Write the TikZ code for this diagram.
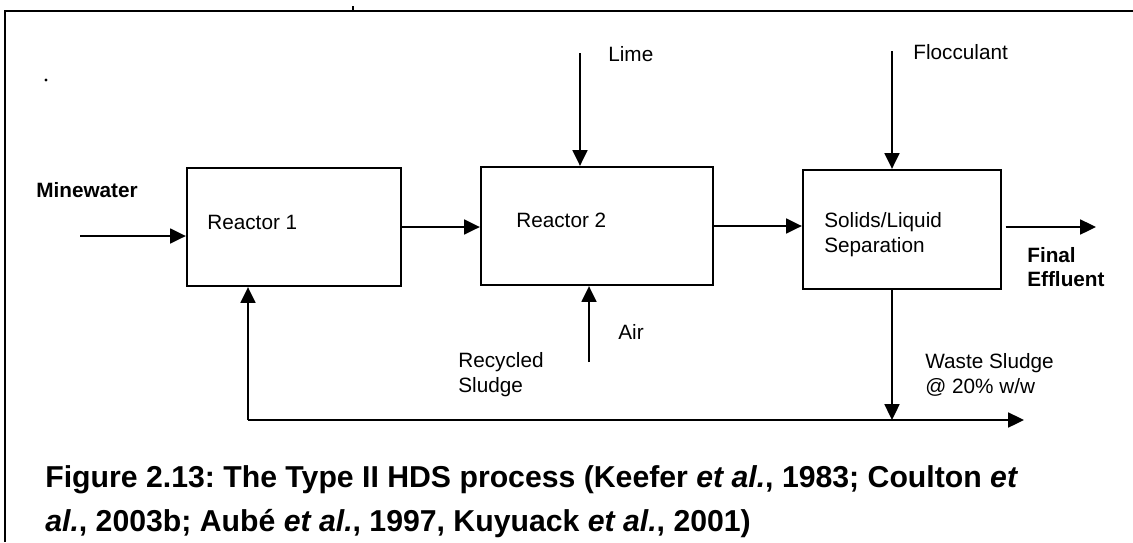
\documentclass[tikz,border=0pt]{standalone}
\usepackage{fontspec}
\setmainfont{Liberation Sans}
\usetikzlibrary{arrows.meta,positioning}
\frenchspacing

\begin{document}
\begin{tikzpicture}[x=0.02cm,y=-0.02cm,
  box/.style={draw,line width=1.3pt,inner sep=0pt},
  arr/.style={line width=1.1pt,-{Triangle[length=9pt,width=8.5pt]}},
  lbl/.style={anchor=north west,inner sep=0pt,align=left,font=\fontsize{11.8}{14}\selectfont},
  blbl/.style={lbl,font=\fontsize{11.8}{13.2}\selectfont\bfseries}]
\def\pxu{0.02cm}
\useasboundingbox (0,0) rectangle (1133,542);
\draw[line width=1.4pt] (5,542) -- (5,11) -- (1133,11);
\draw[line width=1pt] (353,11) -- (353,6);
\fill (46,80) circle (1.6);
% process boxes
\node[box,minimum width=214*\pxu,minimum height=118*\pxu] (r1) at (294,227) {};
\node[box,minimum width=232*\pxu,minimum height=118*\pxu] (r2) at (597,226) {};
\node[box,minimum width=198*\pxu,minimum height=119*\pxu] (sep) at (902,229.5) {};
\node[lbl] (r1txt) at (207,214.5) {Reactor 1};
\node[lbl] (r2txt) at (516,212.5) {Reactor 2};
\node[lbl] (septxt) at (824,212.5) {Solids/Liquid\\Separation};
% streams
\coordinate (mw) at (80,236);
\coordinate (lime) at (580,53);
\coordinate (air) at (589,362);
\coordinate (floc) at (892,51);
\coordinate (fe) at (1096,227);
\coordinate (ws) at (892,420);
\coordinate (rec) at (248,420);
\coordinate (out) at (1024,420);
\draw[arr] (mw) -- (mw -| r1.west);
\draw[arr] (r1) -- (r1 -| r2.west);
\draw[arr] (r2.east) -- (r2.east -| sep.west);
\draw[arr,shorten <=2pt] (sep.east |- fe) -- (fe);
\draw[arr] (lime) -- (lime |- r2.north);
\draw[arr] (air) -- (air |- r2.south);
\draw[arr] (floc) -- (floc |- sep.north);
\draw[arr] (ws |- sep.south) -- (ws);
\draw[arr] (rec) -- (out);
\draw[arr] (rec) -- (rec |- r1.south);
\node[blbl] (mwtxt) at (36,182.5) {Minewater};
\node[lbl] (limetxt) at (608,46.5) {Lime};
\node[lbl] (airtxt) at (618,324.5) {Air};
\node[lbl] (flocctxt) at (913,44.5) {Flocculant};
\node[blbl] (fetxt) at (1027,247.5) {Final\\Effluent};
\node[lbl] (rectxt) at (458,352.5) {Recycled\\Sludge};
\node[lbl] (wstxt) at (925,353.5) {Waste Sludge\\@ 20\% w/w};
\node[anchor=north west,inner sep=0pt,align=left,font=\fontsize{17.2}{25}\selectfont\bfseries] (cap) at (45,465)
  {Figure 2.13: The Type II HDS process (Keefer \textit{et al.}, 1983; Coulton \textit{et}\\
   \textit{al.}, 2003b; Aubé \textit{et al.}, 1997, Kuyuack \textit{et al.}, 2001)};
\end{tikzpicture}
\end{document}
